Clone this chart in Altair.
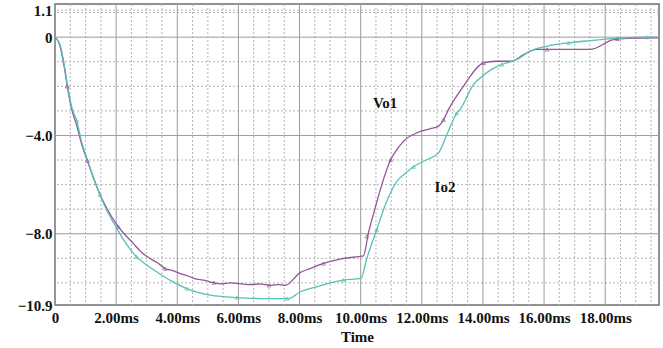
import altair as alt
import pandas as pd

# ---- data ----
vo1_t = [0, 0.15, 0.3, 0.4, 0.55, 0.7, 0.87, 1.06, 1.47, 1.58, 2.07, 2.3, 2.56, 2.8, 3.11, 3.35, 3.6,
         3.85, 4.09, 4.35, 4.64, 4.9, 5.18, 5.45, 5.73, 6.05, 6.38, 6.7, 7.04, 7.3, 7.53, 8.02,
         8.34, 8.78, 9.33, 9.98, 10.09, 10.25, 10.47, 10.69, 10.98, 11.2, 11.4, 11.83, 12.27,
         12.54, 12.71, 12.87, 13.36, 14.02, 14.4, 14.94, 15.33, 15.76, 16.09, 17.51, 18.27,
         18.71, 19.76]
vo1_y = [0, -0.3, -1.2, -2.0, -2.95, -3.55, -4.35, -5.03, -6.4, -6.69, -7.71, -8.05, -8.39, -8.72,
         -9.01, -9.18, -9.42, -9.5, -9.62, -9.72, -9.85, -9.9, -9.99, -10.04, -10.0, -10.03,
         -10.07, -10.04, -10.1, -10.07, -10.1, -9.58, -9.42, -9.21, -9.03, -8.92, -8.9, -7.99,
         -6.97, -6.01, -4.99, -4.55, -4.24, -3.9, -3.73, -3.63, -3.36, -2.95, -2.0, -1.05, -0.98,
         -0.98, -0.71, -0.5, -0.5, -0.5, -0.1, -0.05, -0.03]

io2_t = [0, 0.15, 0.3, 0.4, 0.55, 0.71, 0.87, 1.06, 1.47, 1.53, 2.02, 2.3, 2.67, 3.0, 3.33, 3.8,
         4.31, 4.7, 5.07, 5.5, 5.95, 6.5, 7.0, 7.63, 8.02, 8.56, 9.0, 9.43, 10.01, 10.2, 10.52,
         10.85, 11.18, 11.45, 11.73, 12.16, 12.54, 12.82, 13.14, 13.25, 13.69, 13.91, 14.3,
         14.62, 15.11, 15.54, 16.09, 16.8, 17.51, 18.38, 19.36, 19.76]
io2_y = [0, -0.25, -1.1, -1.9, -2.85, -3.4, -4.25, -5.0, -6.41, -6.6, -7.78, -8.35, -8.94, -9.27,
         -9.55, -9.92, -10.23, -10.4, -10.5, -10.56, -10.6, -10.63, -10.64, -10.64, -10.37,
         -10.16, -10.0, -9.89, -9.82, -9.01, -7.85, -6.69, -5.88, -5.55, -5.27, -4.99, -4.72,
         -3.97, -3.1, -2.95, -1.93, -1.66, -1.3, -1.11, -0.91, -0.57, -0.37, -0.23, -0.14,
         -0.05, 0.0, 0.0]

vo1_mark_t = [0.4, 1.06, 2.07, 3.6, 5.2, 7.0, 8.78, 10.2, 10.98, 12.71, 14.02, 16.1, 18.4]
vo1_mark_y = [-2.0, -5.03, -7.71, -9.42, -9.99, -10.1, -9.21, -8.1, -4.99, -3.36, -1.05, -0.5, -0.07]
io2_mark_t = [0.71, 1.47, 2.67, 4.31, 5.95, 7.6, 9.43, 10.52, 11.73, 13.14, 14.62, 16.8, 19.36]
io2_mark_y = [-3.4, -6.41, -8.94, -10.23, -10.6, -10.64, -9.89, -7.85, -5.27, -3.1, -1.11, -0.23, 0.0]

label_text = ["Vo1", "Io2"]
label_t = [10.8, 12.76]
label_y = [-2.69, -6.08]

x_ticks = [0, 2, 4, 6, 8, 10, 12, 14, 16, 18]
y_ticks = [1.1, 0, -4, -8, -10.9]
x_minor = [v / 2 for v in range(0, 40) if v % 4 != 0]
y_minor = [1.1] + [v for v in range(1, -11, -1) if v % 4 != 0]
y_major = [0, -4, -8]

X_DOM = [0, 19.76]
Y_DOM = [-10.9, 1.35]
FONT = "Liberation Serif"
PURPLE = "#94549a"
CYAN = "#55c1b6"

xs = alt.Scale(domain=X_DOM, nice=False, zero=False)
ys = alt.Scale(domain=Y_DOM, nice=False, zero=False)

x_axis = alt.Axis(values=x_ticks, grid=False, ticks=False, domain=False,
                  labelExpr="datum.value == 0 ? '0' : format(datum.value, '.2f') + 'ms'",
                  labelFont=FONT, labelFontSize=15, labelFontWeight="bold",
                  labelColor="#111", labelPadding=5, labelFlush=False,
                  titleFont=FONT, titleFontSize=15, titleFontWeight="bold",
                  titleColor="#111", titlePadding=4)
y_axis = alt.Axis(values=y_ticks, grid=False, ticks=False, domain=False,
                  labelExpr="datum.value == 0 ? '0' : format(datum.value, '.1f')",
                  labelFont=FONT, labelFontSize=15, labelFontWeight="bold",
                  labelColor="#111", labelPadding=3, labelFlush=False)


def X(field):
    return alt.X(field, scale=xs, axis=x_axis, title="Time")


def Y(field):
    return alt.Y(field, scale=ys, axis=y_axis, title=None)


lines_df = pd.concat([
    pd.DataFrame({"t": vo1_t, "v": vo1_y, "s": "Vo1", "o": range(len(vo1_t))}),
    pd.DataFrame({"t": io2_t, "v": io2_y, "s": "Io2", "o": range(len(io2_t))}),
])
marks_df = pd.concat([
    pd.DataFrame({"t": vo1_mark_t, "v": vo1_mark_y, "s": "Vo1"}),
    pd.DataFrame({"t": io2_mark_t, "v": io2_mark_y, "s": "Io2"}),
])
color = alt.Color("s:N", scale=alt.Scale(domain=["Vo1", "Io2"], range=[PURPLE, CYAN]), legend=None)

minor_v = alt.Chart(pd.DataFrame({"x": x_minor})).mark_rule(
    color="#b5b5b5", strokeDash=[2, 2], strokeWidth=1).encode(x=X("x:Q"))
minor_h = alt.Chart(pd.DataFrame({"y": y_minor})).mark_rule(
    color="#b5b5b5", strokeDash=[2, 2], strokeWidth=1).encode(y=Y("y:Q"))
major_v = alt.Chart(pd.DataFrame({"x": x_ticks})).mark_rule(
    color="#9c9c9c", strokeWidth=1).encode(x=X("x:Q"))
major_h = alt.Chart(pd.DataFrame({"y": y_major})).mark_rule(
    color="#9c9c9c", strokeWidth=1).encode(y=Y("y:Q"))

curves = alt.Chart(lines_df).mark_line(strokeWidth=1.3, interpolate="monotone").encode(
    x=X("t:Q"), y=Y("v:Q"), color=color, order="o:Q")
markers = alt.Chart(marks_df).mark_point(shape="triangle-up", size=14, filled=False,
                                         strokeWidth=1).encode(
    x=X("t:Q"), y=Y("v:Q"), color=color)
labels = alt.Chart(pd.DataFrame({"t": label_t, "v": label_y, "txt": label_text})).mark_text(
    font=FONT, fontSize=15, fontWeight="bold", color="#111").encode(
    x=X("t:Q"), y=Y("v:Q"), text="txt:N")

chart = alt.layer(minor_v, minor_h, major_v, major_h, curves, markers, labels).properties(
    width=604, height=301,
    autosize=alt.AutoSizeParams(type="none"),
    padding={"left": 55, "top": 4, "right": 4, "bottom": 43},
    background="white",
).configure_view(stroke="#6e6e6e", strokeWidth=1.5)

chart.save("out.html", embed_options={"renderer": "svg", "actions": False})
